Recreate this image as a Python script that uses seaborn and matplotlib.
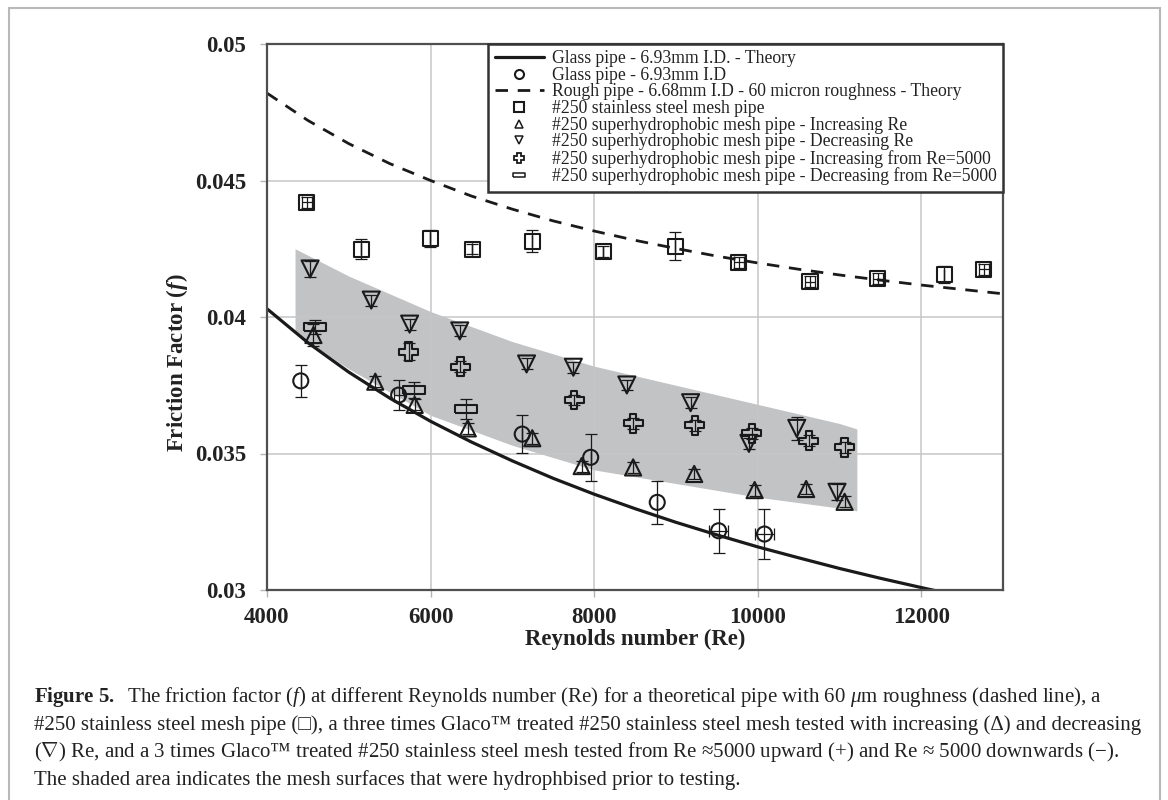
import numpy as np
import pandas as pd
import matplotlib
matplotlib.use("Agg")
import matplotlib.pyplot as plt
from matplotlib.lines import Line2D
from matplotlib.patches import Rectangle
import seaborn as sns

# --- theory curves ---
glass_theory_re = [4000, 4500, 5000, 5500, 6000, 6500, 7000, 7500, 8000, 8500,
                   9000, 9500, 10000, 10500, 11000, 11500, 12000, 12500]
glass_theory_f = [0.0403, 0.03906, 0.03798, 0.03703, 0.03618, 0.03542, 0.03473, 0.03409,
                  0.03351, 0.03298, 0.03248, 0.03202, 0.03158, 0.03118, 0.03079, 0.03043,
                  0.03009, 0.02976]

rough_theory_re = [4000, 4500, 5000, 5500, 6000, 6500, 7000, 7500, 8000, 8500,
                   9000, 9500, 10000, 10500, 11000, 11500, 12000, 12500, 13000]
rough_theory_f = [0.0482, 0.04720, 0.04635, 0.04562, 0.0450, 0.04443, 0.04395, 0.04352,
                  0.04315, 0.04281, 0.04251, 0.04223, 0.04198, 0.04175, 0.04154, 0.04135,
                  0.04117, 0.04101, 0.04085]

# --- measured data ---
glass_re = [4413, 5610, 7121, 7958, 8772, 9523, 10083]
glass_f = [0.03766, 0.03714, 0.03571, 0.03486, 0.03321, 0.03217, 0.03205]
glass_ferr = [0.0006, 0.00055, 0.0007, 0.00085, 0.0008, 0.0008, 0.0009]
glass_reerr = [0, 60, 0, 0, 0, 120, 120]

steel_re = [4486, 5152, 5998, 6508, 7244, 8114, 8990, 9770, 10640, 11470, 12280, 12766]
steel_f = [0.04420, 0.04249, 0.04288, 0.04249, 0.04278, 0.04239, 0.04260, 0.04200,
           0.04130, 0.04140, 0.04155, 0.04175]
steel_ferr = [0.0002, 0.00037, 0.0003, 0.0002, 0.0004, 0.0002, 0.0005, 0.0002,
              0.0002, 0.0002, 0.0003, 0.0002]
steel_reerr = [60, 0, 0, 0, 0, 0, 0, 60, 60, 60, 0, 60]

inc_re = [4568, 5324, 5806, 6455, 7244, 7848, 8477, 9224, 9963, 10593, 11063]
inc_f = [0.03934, 0.03763, 0.03678, 0.03592, 0.03556, 0.03454, 0.03449, 0.03425,
         0.03366, 0.03370, 0.03323]
inc_ferr = [0.0004, 0.0002, 0.0002, 0.0002, 0.0002, 0.0002, 0.0002, 0.0002,
            0.0002, 0.0002, 0.0002]

dec_re = [4527, 5275, 5744, 6357, 7174, 7746, 8400, 9180, 9893, 10478, 10970]
dec_f = [0.04176, 0.04062, 0.03974, 0.03949, 0.03828, 0.03816, 0.03751, 0.03686,
         0.03537, 0.03592, 0.03358]
dec_ferr = [0.0003, 0.0002, 0.0002, 0.0002, 0.0002, 0.0002, 0.0002, 0.0002,
            0.0002, 0.00043, 0.0003]

up5000_re = [5732, 6365, 7757, 8477, 9233, 9929, 10624, 11063]
up5000_f = [0.03873, 0.03818, 0.03696, 0.03611, 0.03604, 0.03574, 0.03546, 0.03523]
up5000_ferr = [0.0003, 0.0002, 0.0002, 0.0002, 0.0002, 0.0002, 0.0002, 0.0002]

down5000_re = [4588, 5793, 6439]
down5000_f = [0.03964, 0.03733, 0.03662]
down5000_ferr = [0.00025, 0.0003, 0.00037]

# shaded band (hydrophobised mesh surfaces)
band_re = [4343, 5000, 6000, 7000, 8000, 9000, 10000, 11000, 11213]
band_upper = [0.0425, 0.0415, 0.0402, 0.0391, 0.0382, 0.0375, 0.0368, 0.0361, 0.0359]
band_lower = [0.0394, 0.0381, 0.0364, 0.0353, 0.0344, 0.0339, 0.0334, 0.0330, 0.0329]

x_ticks = [4000, 6000, 8000, 10000, 12000]
y_ticks = [0.03, 0.035, 0.04, 0.045, 0.05]
y_tick_labels = ["0.03", "0.035", "0.04", "0.045", "0.05"]

legend_labels = [
    "Glass pipe - 6.93mm I.D. - Theory",
    "Glass pipe - 6.93mm I.D",
    "Rough pipe - 6.68mm I.D - 60 micron roughness - Theory",
    "#250 stainless steel mesh pipe",
    "#250 superhydrophobic mesh pipe - Increasing Re",
    "#250 superhydrophobic mesh pipe - Decreasing Re",
    "#250 superhydrophobic mesh pipe - Increasing from Re=5000",
    "#250 superhydrophobic mesh pipe - Decreasing from Re=5000",
]

caption_lines = [
    r"$\mathbf{Figure\ 5.}$  The friction factor ($\mathit{f}$) at different Reynolds number (Re) for a theoretical pipe with 60 $\mu$m roughness (dashed line), a",
    "#250 stainless steel mesh pipe (□), a three times Glaco™ treated #250 stainless steel mesh tested with increasing (Δ) and decreasing",
    r"($\nabla$) Re, and a 3 times Glaco™ treated #250 stainless steel mesh tested from Re ≈5000 upward (+) and Re ≈ 5000 downwards (−).",
    "The shaded area indicates the mesh surfaces that were hydrophbised prior to testing.",
]

# --- style ---
sns.set_theme(style="white")
plt.rcParams["font.family"] = ["Liberation Serif", "DejaVu Sans"]
plt.rcParams["mathtext.fontset"] = "custom"
plt.rcParams["mathtext.rm"] = "Liberation Serif"
plt.rcParams["mathtext.it"] = "Liberation Serif:italic"
plt.rcParams["mathtext.bf"] = "Liberation Serif:bold"
plt.rcParams["mathtext.bfit"] = "Liberation Serif:italic:bold"

ink = "#1a1a1a"
rect_marker = [(-1, -0.38), (1, -0.38), (1, 0.38), (-1, 0.38), (-1, -0.38)]

fig = plt.figure(figsize=(11.68, 8), dpi=100)
ax = fig.add_axes([267 / 1168, 1 - 590 / 800, 736 / 1168, 546 / 800])

# band
ax.fill_between(band_re, band_lower, band_upper, color="#c2c3c5", lw=0, zorder=0.3)

# theory lines
sns.lineplot(x=glass_theory_re, y=glass_theory_f, ax=ax, color=ink, lw=2.3,
             sort=False, zorder=2)
sns.lineplot(x=rough_theory_re, y=rough_theory_f, ax=ax, color=ink, lw=2.0,
             sort=False, zorder=2, dashes=False, linestyle=(0, (4.5, 3.5)))

series = [
    (glass_re, glass_f, glass_ferr, glass_reerr, "o", 117),
    (steel_re, steel_f, steel_ferr, steel_reerr, "s", 117),
    (inc_re, inc_f, inc_ferr, None, "^", 135),
    (dec_re, dec_f, dec_ferr, None, "v", 150),
    (up5000_re, up5000_f, up5000_ferr, None, "P", 185),
    (down5000_re, down5000_f, down5000_ferr, None, rect_marker, 250),
]

for xs, ys, yerr, xerr, mk, size in series:
    ax.errorbar(xs, ys, yerr=yerr, xerr=xerr, fmt="none", ecolor=ink,
                elinewidth=0.9, capsize=4, capthick=0.9, zorder=2.5)
    df = pd.DataFrame({"Re": xs, "f": ys})
    sns.scatterplot(data=df, x="Re", y="f", ax=ax, marker=mk, s=size,
                    facecolor="none", edgecolor=ink, linewidth=1.5, zorder=3)

ax.set_xlim(4000, 13000)
ax.set_ylim(0.03, 0.05)
ax.set_xticks(x_ticks, labels=[str(t) for t in x_ticks], fontweight="bold")
ax.set_yticks(y_ticks, labels=y_tick_labels, fontweight="bold")
ax.tick_params(axis="both", which="major", bottom=True, left=True, direction="out",
               length=5, width=1, color="#b5b5b5", labelsize=16.5, labelcolor="#222222")
ax.tick_params(axis="y", pad=10)
ax.tick_params(axis="x", pad=7)

ax.grid(True, color="#c6c6c6", lw=1.1)
ax.set_axisbelow(True)
for sp in ax.spines.values():
    sp.set_color("#4f4f4f")
    sp.set_linewidth(1.6)

ax.set_xlabel("Reynolds number (Re)", fontsize=16.5, fontweight="bold", color="#222222")
ax.set_ylabel(r"Friction Factor ($\mathbfit{f}$)", fontsize=16.5, fontweight="bold",
              color="#222222")
ax.xaxis.set_label_coords(0.5, -0.072)
ax.yaxis.set_label_coords(-0.105, 0.416)

handles = [
    Line2D([], [], color=ink, lw=2.3),
    Line2D([], [], ls="none", marker="o", ms=6.5, mfc="none", mec=ink, mew=1.5),
    Line2D([], [], color=ink, lw=2.0, ls=(0, (4.5, 3.5))),
    Line2D([], [], ls="none", marker="s", ms=7, mfc="none", mec=ink, mew=1.5),
    Line2D([], [], ls="none", marker="^", ms=6, mfc="none", mec=ink, mew=1.1),
    Line2D([], [], ls="none", marker="v", ms=6, mfc="none", mec=ink, mew=1.1),
    Line2D([], [], ls="none", marker="P", ms=6.5, mfc="none", mec=ink, mew=1.3),
    Line2D([], [], ls="none", marker=rect_marker, ms=8, mfc="none", mec=ink, mew=1.1),
]
leg = ax.legend(handles, legend_labels, loc="upper right", bbox_to_anchor=(1, 1),
                borderaxespad=0, fontsize=12.7, frameon=True, fancybox=False,
                framealpha=1, edgecolor="#333333", handlelength=2.8,
                handletextpad=0.45, labelspacing=-0.02, borderpad=0.35)
leg.get_frame().set_linewidth(1.8)
leg.set_zorder(5)
for t in leg.get_texts():
    t.set_color("#222222")

# caption
caption_y = [697, 725, 752, 780]
for line, yy in zip(caption_lines, caption_y):
    fig.text(34 / 1168, 1 - yy / 800, line, fontsize=15, va="center", ha="left",
             color="#222222")

# frame around the figure block
fig.patches.append(Rectangle((9 / 1168, -0.05), (1160 - 9) / 1168, 1.05 - 8 / 800,
                             transform=fig.transFigure, fill=False,
                             ec="#b8b8b8", lw=1.5))

fig.savefig("out.png", dpi=100)
